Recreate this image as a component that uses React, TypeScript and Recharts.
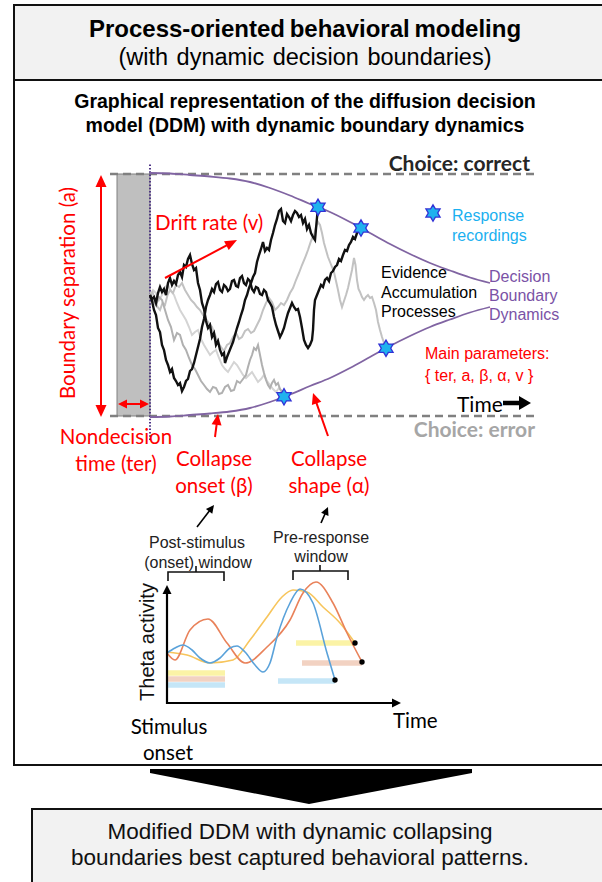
import React from 'react';
import { ComposedChart, Line, Scatter, XAxis, YAxis, ReferenceLine, ReferenceArea } from 'recharts';

const SANS = '"Liberation Sans", Arial, Helvetica, sans-serif';
const CAL = 'Lato, "Liberation Sans", sans-serif';
const RED = '#ff0000';
const PURPLE = '#8064a2';

type P = [number, number];
const toPts = (arr: P[]) => arr.map(([t, v]) => ({ t, v }));

// ---------------- DDM panel (time in ms after non-decision time, evidence units) ----------------
const boundaryTimes = [0, 40, 80, 120, 160, 200, 240, 280, 320, 360, 400, 440, 480, 520, 560, 600, 640, 680];
const boundaryHalfWidth = [1.22, 1.215, 1.2, 1.185, 1.165, 1.13, 1.07, 0.995, 0.91, 0.83, 0.73, 0.62, 0.51, 0.41, 0.32, 0.245, 0.175, 0.12];
const choiceLevel = 1.21;
const nondecisionStart = -66;

const walkBlack1: P[] = [[0,0],[4,-0.04],[8,-0.02],[12,-0.08],[16,0.02],[20,0.08],[24,0.03],[28,0.06],[32,0.0],[36,0.12],[40,0.17],[44,0.10],[48,0.14],[52,0.11],[56,0.20],[60,0.23],[64,0.18],[68,0.30],[72,0.28],[76,0.36],[80,0.40],[84,0.31],[88,0.25],[92,0.27],[96,0.12],[100,0.05],[104,-0.08],[108,-0.14],[112,-0.26],[116,-0.33],[120,-0.30],[124,-0.42],[128,-0.38],[132,-0.50],[136,-0.46],[140,-0.55],[144,-0.60],[148,-0.58],[150,-0.68],[154,-0.62],[158,-0.57],[162,-0.52],[166,-0.47],[170,-0.40],[174,-0.33],[178,-0.27],[182,-0.20],[186,-0.14],[190,-0.05],[194,0.0],[198,0.07],[202,0.12],[206,0.18],[210,0.22],[214,0.33],[218,0.40],[222,0.46],[226,0.53],[230,0.44],[234,0.47],[238,0.45],[242,0.55],[246,0.62],[250,0.70],[254,0.76],[258,0.84],[262,0.86],[266,0.74],[270,0.72],[274,0.81],[278,0.78],[282,0.74],[286,0.80],[290,0.84],[294,0.82],[298,0.78],[302,0.80],[306,0.72],[310,0.76],[314,0.66],[318,0.70],[322,0.62],[326,0.58],[330,0.55],[333,0.72],[336,0.878]];

const walkBlack2: P[] = [[0,0],[4,-0.06],[8,-0.15],[12,-0.20],[16,-0.33],[20,-0.37],[24,-0.50],[28,-0.55],[32,-0.65],[36,-0.70],[40,-0.77],[44,-0.74],[48,-0.83],[52,-0.86],[56,-0.90],[60,-0.88],[64,-0.96],[68,-0.92],[72,-0.86],[76,-0.84],[80,-0.76],[84,-0.74],[88,-0.68],[92,-0.60],[96,-0.52],[100,-0.44],[104,-0.32],[108,-0.24],[112,-0.12],[116,-0.05],[120,0.0],[124,0.06],[128,0.03],[132,0.11],[136,0.13],[140,0.05],[144,0.03],[148,0.10],[152,0.08],[156,0.04],[160,0.06],[164,0.14],[168,0.15],[172,0.09],[176,0.08],[180,0.17],[184,0.19],[188,0.12],[192,0.10],[196,0.16],[200,0.14],[204,0.06],[208,0.03],[212,0.08],[216,0.07],[220,0.01],[224,0.0],[228,0.05],[232,0.03],[236,-0.05],[240,-0.08],[244,-0.12],[248,-0.22],[252,-0.30],[256,-0.36],[260,-0.42],[264,-0.38],[268,-0.33],[272,-0.25],[276,-0.18],[280,-0.13],[284,-0.08],[288,-0.12],[292,-0.15],[296,-0.14],[300,-0.22],[304,-0.33],[308,-0.45],[312,-0.50],[316,-0.53],[320,-0.50],[324,-0.45],[326,-0.35],[328,-0.15],[330,-0.05],[334,0.0],[338,0.05],[342,0.10],[346,0.08],[350,0.15],[354,0.17],[358,0.14],[362,0.22],[366,0.24],[370,0.28],[374,0.30],[378,0.36],[382,0.34],[386,0.40],[390,0.45],[394,0.44],[398,0.50],[402,0.53],[406,0.58],[410,0.56],[414,0.62],[418,0.64],[422,0.67]];

const walkGray1: P[] = [[0,0],[6,-0.06],[12,-0.10],[18,-0.02],[24,-0.05],[30,-0.15],[36,-0.25],[42,-0.32],[48,-0.45],[54,-0.38],[60,-0.40],[66,-0.50],[72,-0.55],[78,-0.63],[84,-0.70],[90,-0.74],[96,-0.80],[102,-0.86],[108,-0.90],[114,-0.94],[120,-0.97],[126,-0.92],[132,-0.93],[138,-0.99],[144,-0.98],[150,-0.92],[156,-0.90],[162,-0.96],[168,-0.95],[174,-0.86],[180,-0.88],[186,-0.84],[192,-0.80],[196,-0.72],[200,-0.65],[204,-0.60],[208,-0.53],[212,-0.55],[216,-0.50],[220,-0.60],[224,-0.70],[228,-0.78],[232,-0.85],[236,-0.90],[240,-0.93],[244,-0.88],[248,-0.85],[252,-0.90],[256,-0.88],[260,-0.94],[264,-0.97],[268,-1.018]];

const walkGray2: P[] = [[0,0],[5,0.03],[10,-0.05],[15,-0.12],[20,-0.15],[25,-0.08],[30,-0.10],[35,0.0],[40,0.05],[46,0.02],[52,0.10],[58,0.08],[64,0.12],[70,0.05],[76,0.0],[82,-0.05],[88,-0.08],[94,-0.12],[100,-0.15],[106,-0.20],[112,-0.24],[118,-0.28],[124,-0.32],[130,-0.40],[136,-0.47],[142,-0.52],[148,-0.56],[154,-0.50],[160,-0.48],[166,-0.42],[172,-0.38],[178,-0.44],[184,-0.42],[190,-0.36],[196,-0.34],[202,-0.38],[208,-0.36],[214,-0.30],[220,-0.24],[226,-0.15],[232,-0.08],[238,-0.03],[244,-0.07],[250,-0.15],[256,-0.12],[262,-0.08],[268,-0.10],[274,-0.05],[280,0.02],[286,0.07],[292,0.15],[298,0.22],[304,0.30],[310,0.37],[316,0.45],[322,0.54],[328,0.60],[332,0.68],[336,0.73],[340,0.70],[344,0.62],[348,0.52],[352,0.45],[356,0.38],[360,0.33],[364,0.28],[368,0.23],[372,0.14],[376,0.05],[380,-0.05],[384,-0.12],[388,-0.06],[392,0.0],[396,0.07],[400,0.16],[404,0.25],[408,0.37],[411,0.30],[414,0.15],[417,0.06],[420,0.03],[424,-0.02],[428,-0.05],[432,-0.02],[436,0.0],[440,-0.03],[444,-0.02],[448,-0.08],[452,-0.15],[456,-0.27],[460,-0.35],[464,-0.42],[468,-0.48],[472,-0.532]];

const walkGray3: P[] = [[0,0],[6,0.05],[12,0.02],[18,-0.05],[24,0.0],[30,0.08],[36,0.10],[42,0.04],[48,0.0],[54,-0.08],[60,-0.15],[66,-0.20],[72,-0.25],[78,-0.32],[84,-0.40],[90,-0.37],[96,-0.35],[102,-0.44],[108,-0.50],[114,-0.55],[120,-0.60],[126,-0.57],[132,-0.55],[138,-0.63],[144,-0.70],[150,-0.74],[156,-0.77],[162,-0.72],[168,-0.67],[174,-0.70],[180,-0.75],[186,-0.80],[192,-0.83],[198,-0.80],[204,-0.77],[210,-0.82],[216,-0.87],[222,-0.84],[228,-0.80],[234,-0.86],[240,-0.90],[246,-0.94],[252,-0.97],[258,-0.93],[262,-0.95],[268,-1.018]];

const responseTimes = [336, 422, 268, 472];
const responseEvidence = [0.878, 0.67, -1.018, -0.532];
const legendStarTime = [566];
const legendStarLevel = [0.82];

// ---------------- Theta panel (ms after stimulus, activity a.u.) ----------------
const thetaBlue: P[] = [[0,5.0],[32,5.5],[64,5.8],[100,5.3],[132,4.5],[172,4.0],[212,4.5],[252,5.5],[280,5.7],[312,5.1],[352,3.8],[384,3.1],[412,4.0],[440,6.6],[492,10.0],[532,11.4],[584,10.0],[640,5.0],[672,2.3]];
const thetaOrange: P[] = [[0,5.0],[32,4.3],[92,7.3],[164,8.4],[240,6.0],[312,4.0],[400,5.6],[492,8.3],[544,11.0],[596,12.1],[664,10.0],[720,7.0],[780,4.1]];
const thetaYellow: P[] = [[0,5.1],[80,4.8],[172,4.0],[264,4.3],[332,6.3],[400,8.6],[460,10.6],[504,11.3],[560,11.1],[624,9.6],[692,8.0],[752,6.0]];
const windowBarsOnset: P[][] = [[[0,3.0],[232,3.0]],[[0,2.4],[232,2.4]],[[0,1.8],[232,1.8]]];
const windowBarsResponse: P[][] = [[[516,6.0],[752,6.0]],[[540,4.0],[780,4.0]],[[444,2.2],[672,2.2]]];
const barColors = ['#fbf3a6', '#f2d2c2', '#c5e6f7'];
const thetaEnds: P[] = [[752,6.0],[780,4.1],[672,2.3]];

const upperBoundary = boundaryTimes.map((t, i) => ({ t, v: boundaryHalfWidth[i] }));
const lowerBoundary = boundaryTimes.map((t, i) => ({ t, v: -boundaryHalfWidth[i] }));
const stars = responseTimes.map((t, i) => ({ t, v: responseEvidence[i] }));
const legendStar = legendStarTime.map((t, i) => ({ t, v: legendStarLevel[i] }));

function Hexagram(props: any) {
  const { cx, cy } = props;
  if (cx == null || cy == null) return null;
  const R = 8.2, r = R / Math.sqrt(3);
  const pts: string[] = [];
  for (let k = 0; k < 12; k++) {
    const a = (k * Math.PI) / 6;
    const rr = k % 2 === 0 ? R : r;
    pts.push(`${cx + rr * Math.sin(a)},${cy - rr * Math.cos(a)}`);
  }
  return <polygon points={pts.join(' ')} fill="#1fb2ee" stroke="#3232d6" strokeWidth={1.3} />;
}

function EndDot(props: any) {
  const { cx, cy } = props;
  if (cx == null || cy == null) return null;
  return <circle cx={cx} cy={cy} r={2.7} fill="#000" />;
}

function Arrow({ x1, y1, x2, y2, color = '#000', width = 2, len = 10, hw = 5, both = false }: any) {
  const dx = x2 - x1, dy = y2 - y1, L = Math.hypot(dx, dy), ux = dx / L, uy = dy / L;
  const head = (tx: number, ty: number, ex: number, ey: number) => {
    const bx = tx - ex * len, by = ty - ey * len;
    return `${tx},${ty} ${bx - ey * hw},${by + ex * hw} ${bx + ey * hw},${by - ex * hw}`;
  };
  const sx = both ? x1 + ux * len * 0.8 : x1, sy = both ? y1 + uy * len * 0.8 : y1;
  const ex = x2 - ux * len * 0.8, ey = y2 - uy * len * 0.8;
  return (
    <g>
      <line x1={sx} y1={sy} x2={ex} y2={ey} stroke={color} strokeWidth={width} />
      <polygon points={head(x2, y2, ux, uy)} fill={color} />
      {both && <polygon points={head(x1, y1, -ux, -uy)} fill={color} />}
    </g>
  );
}

function T({ x, y, a = 'l', s = 16, c = '#000', w = 400, f = SANS, rot = 0, ws, children }: any) {
  const tx = a === 'c' ? '-50%' : a === 'r' ? '-100%' : '0';
  return (
    <div
      style={{
        position: 'absolute', left: x, top: y,
        transform: `translate(${tx},-50%)${rot ? ` rotate(${rot}deg)` : ''}`,
        fontSize: s, color: c, fontWeight: w, fontFamily: f, whiteSpace: 'nowrap',
        lineHeight: 1, wordSpacing: ws,
      }}
    >
      {children}
    </div>
  );
}

const box = (left: number, top: number, height: number, bg: string): React.CSSProperties => ({
  position: 'absolute', left, top, width: 660, height, border: '2px solid #111', boxSizing: 'border-box', background: bg,
});

export default function App() {
  return (
    <div style={{ position: 'relative', width: 602, height: 882, overflow: 'hidden', background: '#fff', fontFamily: SANS }}>
      <style>{'html,body{margin:0;padding:0;background:#fff}'}</style>
      <div style={box(13, 79, 687, '#fff')} />
      <div style={box(13, 4, 77, '#f2f2f2')} />
      <div style={box(31, 808, 120, '#f2f2f2')} />

      <div style={{ position: 'absolute', left: 0, top: 0 }}>
        <ComposedChart width={602} height={460} margin={{ top: 164, right: 67, bottom: 20, left: 110 }}>
          <XAxis type="number" dataKey="t" domain={[-80, 770]} hide allowDataOverflow />
          <YAxis type="number" dataKey="v" domain={[-1.45, 1.31]} hide allowDataOverflow />
          <ReferenceArea x1={nondecisionStart} x2={0} y1={-choiceLevel} y2={choiceLevel} fill="#bfbfbf" fillOpacity={1} stroke="#808080" strokeWidth={1} />
          <ReferenceLine y={choiceLevel} stroke="#808080" strokeWidth={2.5} strokeDasharray="8 5" />
          <ReferenceLine y={-choiceLevel} stroke="#808080" strokeWidth={2.5} strokeDasharray="8 5" />
          <ReferenceLine x={0} stroke="#4e3486" strokeWidth={2} strokeDasharray="1.5 1.8" />
          <Line data={toPts(walkGray3)} dataKey="v" type="linear" stroke="#d4d4d4" strokeWidth={2} dot={false} isAnimationActive={false} />
          <Line data={toPts(walkGray2)} dataKey="v" type="linear" stroke="#c2c2c2" strokeWidth={2} dot={false} isAnimationActive={false} />
          <Line data={toPts(walkGray1)} dataKey="v" type="linear" stroke="#b0b0b0" strokeWidth={2} dot={false} isAnimationActive={false} />
          <Line data={toPts(walkBlack2)} dataKey="v" type="linear" stroke="#111" strokeWidth={2.4} dot={false} isAnimationActive={false} />
          <Line data={toPts(walkBlack1)} dataKey="v" type="linear" stroke="#111" strokeWidth={2.4} dot={false} isAnimationActive={false} />
          <Line data={upperBoundary} dataKey="v" type="monotone" stroke={PURPLE} strokeWidth={1.8} dot={false} isAnimationActive={false} />
          <Line data={lowerBoundary} dataKey="v" type="monotone" stroke={PURPLE} strokeWidth={1.8} dot={false} isAnimationActive={false} />
          <Scatter data={stars} dataKey="v" shape={Hexagram} isAnimationActive={false} />
          <Scatter data={legendStar} dataKey="v" shape={Hexagram} isAnimationActive={false} />
        </ComposedChart>
      </div>

      <div style={{ position: 'absolute', left: 0, top: 560 }}>
        <ComposedChart width={602} height={160} margin={{ top: 18, right: 202, bottom: 17, left: 167 }}>
          <XAxis type="number" dataKey="t" domain={[0, 932]} hide />
          <YAxis type="number" dataKey="v" domain={[0, 12.5]} hide />
          {windowBarsOnset.map((b, i) => (
            <Line key={'o' + i} data={toPts(b)} dataKey="v" type="linear" stroke={barColors[i]} strokeWidth={5.5} dot={false} isAnimationActive={false} />
          ))}
          {windowBarsResponse.map((b, i) => (
            <Line key={'r' + i} data={toPts(b)} dataKey="v" type="linear" stroke={barColors[i]} strokeWidth={5.5} dot={false} isAnimationActive={false} />
          ))}
          <Line data={toPts(thetaYellow)} dataKey="v" type="monotone" stroke="#f7c55c" strokeWidth={1.6} dot={false} isAnimationActive={false} />
          <Line data={toPts(thetaOrange)} dataKey="v" type="monotone" stroke="#e9825a" strokeWidth={1.6} dot={false} isAnimationActive={false} />
          <Line data={toPts(thetaBlue)} dataKey="v" type="monotone" stroke="#5aa2da" strokeWidth={1.6} dot={false} isAnimationActive={false} />
          <Scatter data={toPts(thetaEnds)} dataKey="v" shape={EndDot} isAnimationActive={false} />
        </ComposedChart>
      </div>

      <svg width={602} height={882} style={{ position: 'absolute', left: 0, top: 0, pointerEvents: 'none' }}>
        <Arrow x1={101} y1={175} x2={101} y2={417} color={RED} width={2} len={12} hw={5.5} both />
        <Arrow x1={118} y1={404} x2={149} y2={404} color={RED} width={2} len={9} hw={4.5} both />
        <Arrow x1={165} y1={278} x2={237} y2={240} color={RED} width={2} len={12} hw={5} />
        <Arrow x1={215} y1={437} x2={218} y2={414} color={RED} width={2} len={11} hw={5} />
        <Arrow x1={328} y1={436} x2={313} y2={393} color={RED} width={2} len={11} hw={5} />
        <Arrow x1={503} y1={403} x2={531} y2={403} color="#000" width={4.5} len={12} hw={7} />
        <Arrow x1={197} y1={527} x2={214} y2={505} color="#000" width={1.6} len={8} hw={4} />
        <Arrow x1={321} y1={523} x2={328} y2={507} color="#000" width={1.6} len={8} hw={4} />
        <path d="M168,581 L168,572 L224,572 L224,581 M196,572 L196,566" fill="none" stroke="#111" strokeWidth={1.6} />
        <path d="M293,580 L293,571 L348,571 L348,580 M320,571 L320,565" fill="none" stroke="#111" strokeWidth={1.6} />
        <Arrow x1={167} y1={704} x2={167} y2={585} color="#000" width={2.2} len={9} hw={4.5} />
        <Arrow x1={166} y1={703} x2={401} y2={703} color="#000" width={2.2} len={9} hw={4.5} />
        <polygon points="150,769 472,769 472,773 309,804 150,773" fill="#000" />
      </svg>

      <T x={305} y={29} a="c" s={24} w={700} ws={-2}>Process-oriented behavioral modeling</T>
      <T x={305} y={58} a="c" s={23.5} ws={2}>(with dynamic decision boundaries)</T>
      <T x={305} y={102} a="c" s={19.5} w={700}>Graphical representation of the diffusion decision</T>
      <T x={305} y={126} a="c" s={19.5} w={700}>model (DDM) with dynamic boundary dynamics</T>

      <T x={530} y={162} a="r" s={21} w={700} f={CAL} c="#262626">Choice: correct</T>
      <T x={535} y={428} a="r" s={21} w={700} f={CAL} c="#a6a6a6">Choice: error</T>
      <T x={457} y={403} s={21} f={CAL}>Time</T>
      <T x={452} y={216} s={16} c="#1ab0f0">Response</T>
      <T x={452} y={236} s={16} c="#1ab0f0">recordings</T>
      <T x={381} y={273} s={16}>Evidence</T>
      <T x={381} y={293} s={16}>Accumulation</T>
      <T x={381} y={312} s={16}>Processes</T>
      <T x={489} y={277} s={16} c="#7a52a6">Decision</T>
      <T x={489} y={296} s={16} c="#7a52a6">Boundary</T>
      <T x={489} y={315} s={16} c="#7a52a6">Dynamics</T>
      <T x={425} y={354} s={16} c={RED}>Main parameters:</T>
      <T x={425} y={376} s={16} c={RED}>{'{ ter, a, β, α, v }'}</T>

      <T x={67} y={293} a="c" s={20.5} f={CAL} c={RED} rot={-90}>Boundary separation (a)</T>
      <T x={155} y={222} s={20.5} f={CAL} c={RED}>Drift rate (v)</T>
      <T x={116} y={436} a="c" s={20.5} f={CAL} c={RED}>Nondecision</T>
      <T x={116} y={463} a="c" s={20.5} f={CAL} c={RED}>time (ter)</T>
      <T x={214} y={458} a="c" s={20.5} f={CAL} c={RED}>Collapse</T>
      <T x={214} y={485} a="c" s={20.5} f={CAL} c={RED}>onset (β)</T>
      <T x={329} y={458} a="c" s={20.5} f={CAL} c={RED}>Collapse</T>
      <T x={329} y={485} a="c" s={20.5} f={CAL} c={RED}>shape (α)</T>

      <T x={197} y={543} a="c" s={16} c="#222">Post-stimulus</T>
      <T x={198} y={563} a="c" s={16} c="#222">(onset) window</T>
      <T x={321} y={538} a="c" s={16} c="#222">Pre-response</T>
      <T x={321} y={557} a="c" s={16} c="#222">window</T>
      <T x={147} y={642} a="c" s={20} c="#111" rot={-90}>Theta activity</T>
      <T x={393} y={720} s={20.5} f={CAL}>Time</T>
      <T x={169} y={726} a="c" s={20.5} f={CAL}>Stimulus</T>
      <T x={168} y={752} a="c" s={20.5} f={CAL}>onset</T>

      <T x={300} y={832} a="c" s={22.5} c="#111">Modified DDM with dynamic collapsing</T>
      <T x={300} y={858} a="c" s={22.5} c="#111">boundaries best captured behavioral patterns.</T>
    </div>
  );
}
